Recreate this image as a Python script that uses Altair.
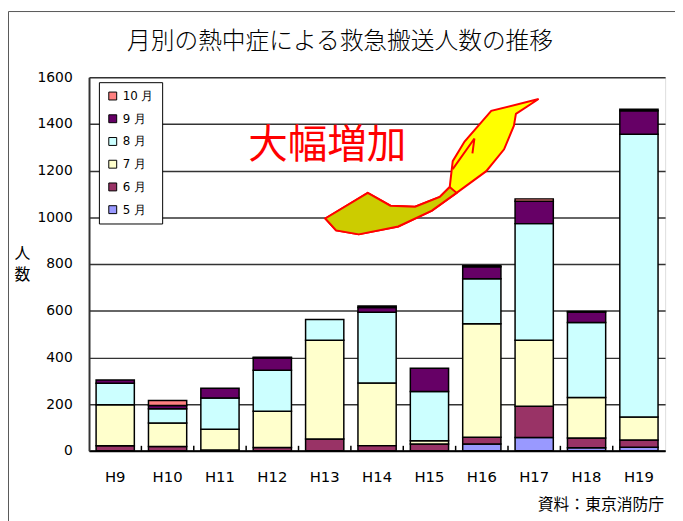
import altair as alt
import pandas as pd

# ---- data ----
years = ["H9", "H10", "H11", "H12", "H13", "H14", "H15", "H16", "H17", "H18", "H19"]
may = [0, 0, 0, 0, 0, 0, 0, 29, 57, 13, 15]
jun = [21, 18, 3, 14, 50, 22, 29, 29, 134, 42, 31]
jul = [176, 101, 89, 155, 423, 268, 14, 486, 282, 173, 99]
aug = [92, 61, 134, 176, 89, 303, 211, 193, 500, 321, 1211]
sep = [14, 14, 42, 52, 0, 21, 99, 51, 96, 45, 100]
octo = [0, 21, 0, 4, 0, 6, 0, 5, 10, 3, 7]

months = ["5月", "6月", "7月", "8月", "9月", "10月"]
month_colors = ["#9999FF", "#993366", "#FFFFCC", "#CCFFFF", "#660066", "#FF8080"]
y_ticks = [0, 200, 400, 600, 800, 1000, 1200, 1400, 1600]

title_text = "月別の熱中症による救急搬送人数の推移"
y_title = ["人", "数"]
note_text = "大幅増加"
source_text = "資料：東京消防庁"

series = [may, jun, jul, aug, sep, octo]
rows = []
for mi, (m, vals) in enumerate(zip(months, series)):
    for y, v in zip(years, vals):
        if v > 0:
            rows.append({"year": y, "month": m, "order": mi, "value": v})
df = pd.DataFrame(rows)

legend_domain = months[::-1]
legend_range = month_colors[::-1]

W, H = 583, 378
STEP = W / 11.0
P_IN = 0.27

# ---- decorative arrow (pixel outline, scaled into a custom symbol) ----
CX, CY, R = 437.0, 165.0, 112.0
bright_pts = [(329, 218), (372, 192), (395, 205), (420, 206), (445, 196), (455, 186),
              (458, 160), (470, 140), (497, 109), (545, 97), (522, 112), (520, 124),
              (510, 148), (492, 170), (462, 192), (437, 210), (403, 226), (363, 234),
              (340, 230)]
dark_pts = [(329, 218), (372, 192), (395, 205), (420, 206), (445, 196), (455, 186),
            (462, 192), (437, 210), (403, 226), (363, 234), (340, 230)]
fold_pts = [(458, 168), (480, 137), (478, 152)]


def to_path(pts, close=True):
    s = []
    for i, (px, py) in enumerate(pts):
        s.append(("M" if i == 0 else "L") + f"{(px - CX) / R:.3f},{(py - CY) / R:.3f}")
    return "".join(s) + ("Z" if close else "")


one = pd.DataFrame({"k": [0]})

frame = alt.Chart(one).mark_rect(fillOpacity=0, stroke="#555555", strokeWidth=1).encode(
    x=alt.value(-81.5), x2=alt.value(700), y=alt.value(-66.5), y2=alt.value(600)
)

bars = alt.Chart(df).mark_bar(stroke="black", strokeWidth=1.5, opacity=1).encode(
    x=alt.X(
        "year:N", sort=years,
        scale=alt.Scale(paddingInner=P_IN, paddingOuter=P_IN / 2),
        axis=alt.Axis(title=None, labelAngle=0, tickSize=0, labelPadding=19,
                      domainColor="black", domainWidth=2, labelFontSize=15,
                      labelFont="DejaVu Sans", labelColor="black", labelBaseline="top"),
    ),
    y=alt.Y(
        "value:Q", stack="zero",
        scale=alt.Scale(domain=[0, 1600], nice=False, zero=True),
        axis=alt.Axis(values=y_ticks, format="d", title=y_title, titleAngle=0,
                      titleAlign="center", titleBaseline="top", titleX=-68, titleY=170,
                      titleFontSize=16, titleFontWeight="normal",
                      titleFont="Noto Sans CJK JP", titleLineHeight=22,
                      titleColor="black",
                      tickSize=0, labelPadding=17, labelFontSize=14,
                      labelFont="DejaVu Sans", labelColor="black",
                      grid=True, gridColor="#333333", gridWidth=1.5,
                      domainColor="#333333", domainWidth=2),
    ),
    color=alt.Color(
        "month:N",
        scale=alt.Scale(domain=legend_domain, range=legend_range),
        legend=alt.Legend(title=None, orient="none", legendX=10, legendY=5,
                          fillColor="white", strokeColor="black", padding=8,
                          symbolType="square", symbolSize=64, symbolStrokeColor="black",
                          symbolStrokeWidth=1, symbolOpacity=1, labelFontSize=12,
                          labelFont="DejaVu Sans", labelColor="black", rowPadding=11,
                          labelExpr="replace(datum.label, '月', ' 月')"),
    ),
    order=alt.Order("order:Q", sort="ascending"),
)

ticks = alt.Chart(pd.DataFrame({"year": years[1:]})).mark_rule(
    color="black", strokeWidth=1.5, xOffset=-(P_IN / 2) * STEP
).encode(
    x=alt.X("year:N", sort=years, bandPosition=0),
    y=alt.value(H - 5), y2=alt.value(H),
)

arrow_bright = alt.Chart(one).mark_point(
    shape=to_path(bright_pts), size=(2 * R) ** 2, filled=True, fill="#FFFF00",
    stroke="#FF0000", strokeWidth=2, opacity=1
).encode(x=alt.value(CX - 90), y=alt.value(CY - 75))

arrow_dark = alt.Chart(one).mark_point(
    shape=to_path(dark_pts), size=(2 * R) ** 2, filled=True, fill="#CCCC00",
    stroke="#FF0000", strokeWidth=2, opacity=1
).encode(x=alt.value(CX - 90), y=alt.value(CY - 75))

arrow_fold = alt.Chart(one).mark_point(
    shape=to_path(fold_pts, close=False), size=(2 * R) ** 2, filled=False,
    stroke="#FF0000", strokeWidth=2, opacity=1
).encode(x=alt.value(CX - 90), y=alt.value(CY - 75))

title = alt.Chart(one).mark_text(
    text=title_text, fontSize=24, font="Noto Sans CJK JP", fontWeight=300,
    color="black", align="center", baseline="middle"
).encode(x=alt.value(254), y=alt.value(-36))

note = alt.Chart(one).mark_text(
    text=note_text, fontSize=40, color="#FF0000", font="Noto Sans CJK JP",
    align="center", baseline="middle"
).encode(x=alt.value(241), y=alt.value(70))

source = alt.Chart(one).mark_text(
    text=source_text, fontSize=16, color="black", font="Noto Sans CJK JP",
    align="right", baseline="middle"
).encode(x=alt.value(582), y=alt.value(433))

chart = alt.layer(frame, bars, ticks, arrow_bright, arrow_dark, arrow_fold,
                  title, note, source).properties(
    width=W, height=H,
    autosize=alt.AutoSizeParams(type="none"),
    padding={"left": 82, "top": 67, "right": 10, "bottom": 68},
).configure_view(fill="#C4C4C4", stroke="#808080", strokeWidth=1).configure(
    background="white"
)

chart.save("out.html", embed_options={"renderer": "svg", "actions": False})
